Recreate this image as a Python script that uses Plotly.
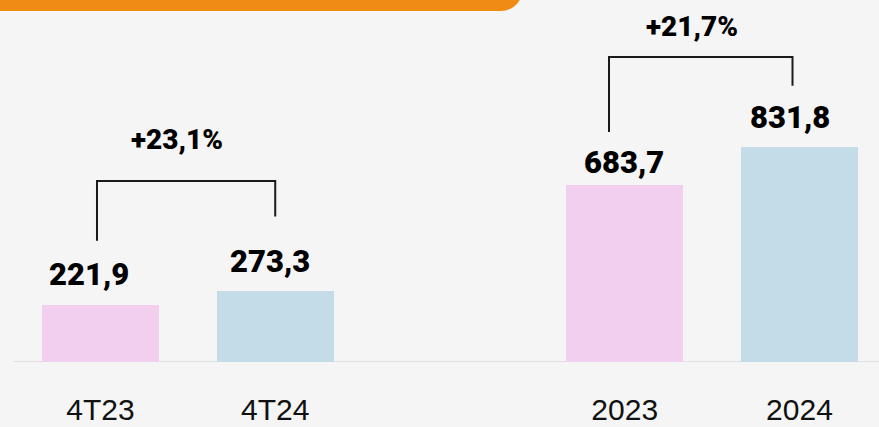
import plotly.graph_objects as go

# periods compared in two groups (quarter, full year)
groups = [["4T23", "4T24"], ["2023", "2024"]]
values = [221.9, 273.3, 683.7, 831.8]
value_labels = ["221,9", "273,3", "683,7", "831,8"]
growth_labels = ["+23,1%", "+21,7%"]

PINK = "#f2cfee"
BLUE = "#c4dbe8"
BG = "#f5f5f5"
ORANGE = "#f08c14"

# x positions: one empty slot between the groups
categories = []
xpos = []
for gi, g in enumerate(groups):
    for i, c in enumerate(g):
        categories.append(c)
        xpos.append(gi * (len(g) + 1) + i)
colors = [PINK, BLUE] * len(groups)

fig = go.Figure()
fig.add_trace(go.Bar(
    x=xpos, y=values, width=0.67,
    marker=dict(color=colors, line=dict(width=0)),
    hoverinfo="skip",
))

# value labels above bars (small manual nudges like the original)
label_dx = [-11, -5, -1, -9]
label_dy = [30, 30, 23, 30]
for x, v, t, dx, dy in zip(xpos, values, value_labels, label_dx, label_dy):
    fig.add_annotation(x=x, y=v, text=t, showarrow=False,
                       xshift=dx, yshift=dy, yanchor="middle",
                       font=dict(family="Roboto", size=31, color="#000", weight=900))

# brackets + growth labels, offsets in data units
# (left leg, right leg, top, label, left x nudge, right x nudge)
bracket_style = [(248, 290, 428, 587, -0.02, 0.0),
                 (207, 238, 349, 469, -0.09, -0.04)]
for gi, g in enumerate(groups):
    i0 = gi * len(g)
    x0, x1 = xpos[i0], xpos[i0 + 1]
    v0, v1 = values[i0], values[i0 + 1]
    dl, dr, dt, dlab, nx0, nx1 = bracket_style[gi]
    top = max(v0, v1) + dt
    xa, xb = x0 + nx0, x1 + nx1
    fig.add_shape(type="path",
                  path="M %f,%f L %f,%f L %f,%f L %f,%f" % (xa, v0 + dl, xa, top, xb, top, xb, v1 + dr),
                  line=dict(color="#1a1a1a", width=2))
    fig.add_annotation(x=(xa + xb) / 2 - 0.05, y=max(v0, v1) + dlab, text=growth_labels[gi],
                       showarrow=False, yanchor="middle",
                       font=dict(family="Roboto", size=28, color="#000", weight=900))

# baseline
fig.add_shape(type="line", xref="paper", yref="y", x0=13.5 / 879, x1=1, y0=-1, y1=-1,
              line=dict(color="#d9d9d9", width=2), layer="below")

# orange header tab (cut off at the top of the page)
W, H = 879.0, 362.0
def px(x, y):
    return "%f,%f" % (x / W, (H - y) / H)
fig.add_shape(type="path", xref="paper", yref="paper",
              path="M %s L %s L %s C %s %s %s Z" % (px(0, -12), px(0, 11), px(501, 11),
                                                    px(513, 11), px(523, 1), px(523, -12)),
              fillcolor=ORANGE, line=dict(width=0), layer="above")

fig.update_layout(
    width=879, height=427,
    margin=dict(l=0, r=0, t=0, b=65),
    paper_bgcolor=BG, plot_bgcolor=BG,
    showlegend=False,
    bargap=0,
    xaxis=dict(range=[-0.575, 4.455], tickvals=xpos, ticktext=categories,
               showgrid=False, zeroline=False, showline=False, ticks="",
               ticklabelstandoff=27, automargin=False,
               tickfont=dict(family="Liberation Sans", size=30, color="#111")),
    yaxis=dict(range=[0, 1402], visible=False, fixedrange=True, automargin=False),
)

fig.write_html("out.html", config={"displayModeBar": False},
               post_script="document.body.style.margin='0';")
